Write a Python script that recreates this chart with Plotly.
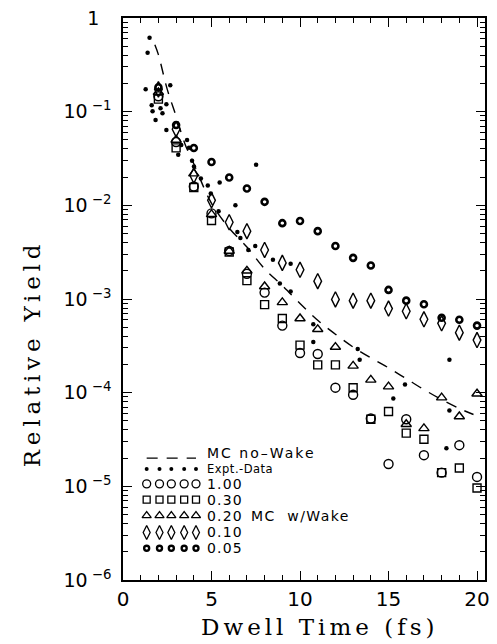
import plotly.graph_objects as go

# ---------------- data ----------------
mc_time = [2, 3, 4, 5, 6, 7, 8, 9, 10, 11, 12, 13, 14, 15, 16, 17, 18, 19, 20]

wake_100 = [0.146, 0.0475, 0.0159, 8.2e-3, 3.26e-3, 1.86e-3, 1.17e-3, 5.2e-4, 2.65e-4, 2.59e-4,
            1.13e-4, 9.5e-5, 5.3e-5, 1.73e-5, 5.2e-5, 2.15e-5, 1.4e-5, 2.75e-5, 1.26e-5]
wake_030 = [0.136, 0.0411, 0.0155, 6.9e-3, 3.18e-3, 1.57e-3, 8.7e-4, 6.2e-4, 3.22e-4, 1.98e-4,
            1.98e-4, 1.13e-4, 5.2e-5, 6.3e-5, 3.7e-5, 3.18e-5, 1.4e-5, 1.57e-5, 9.6e-6]
wake_020 = [0.161, 0.0499, 0.0218, 8.0e-3, 3.26e-3, 2.0e-3, 1.36e-3, 9.2e-4, 6.2e-4, 4.75e-4,
            3.07e-4, 1.93e-4, 1.37e-4, 1.16e-4, 4.6e-5, 4.16e-5, 8.85e-5, 5.57e-5, 9.75e-5]
wake_010 = [0.173, 0.065, 0.0208, 0.0113, 6.6e-3, 5.3e-3, 3.34e-3, 2.43e-3, 2.05e-3, 1.55e-3,
            9.9e-4, 9.6e-4, 9.6e-4, 7.9e-4, 7.4e-4, 6.07e-4, 5.5e-4, 4.37e-4, 3.64e-4]
wake_005 = [0.182, 0.072, 0.041, 0.029, 0.0198, 0.0151, 0.0109, 6.45e-3, 6.8e-3, 5.3e-3,
            3.68e-3, 2.75e-3, 2.28e-3, 1.25e-3, 9.6e-4, 8.8e-4, 6.3e-4, 6.0e-4, 5.2e-4]

expt_time = [1.50, 1.39, 1.28, 2.67, 1.62, 1.67, 2.12, 2.23, 2.45, 1.84,
             2.45, 3.62, 3.29, 3.73, 3.12, 3.90, 4.01, 4.40, 4.79, 5.46,
             4.96, 5.40, 6.35, 7.52, 6.46, 6.63, 7.08, 7.47, 8.47, 9.47,
             8.86, 9.47, 10.75, 10.75, 13.26, 13.37, 18.44, 15.93, 15.27, 18.44,
             18.27]
expt_yield = [0.614, 0.426, 0.173, 0.191, 0.117, 0.101, 0.109, 0.0964, 0.120, 0.0813,
              0.0637, 0.0499, 0.0442, 0.0411, 0.0347, 0.0299, 0.0259, 0.0193, 0.0163, 0.0175,
              0.0134, 8.64e-3, 0.0100, 0.0272, 5.18e-3, 4.48e-3, 3.34e-3, 3.68e-3, 2.62e-3, 2.38e-3,
              1.46e-3, 1.20e-3, 5.37e-4, 3.47e-4, 2.92e-4, 2.24e-4, 2.24e-4, 1.22e-4, 8.65e-5, 6.45e-5,
              2.55e-5]

nowake_time = [1.8, 2.0, 2.5, 3.0, 3.5, 4, 5, 6, 7, 8, 9, 10, 11, 12, 13, 14, 15, 16, 17, 18, 19, 19.8]
nowake_yield = [0.518, 0.406, 0.173, 0.0896, 0.0453, 0.0278, 0.0105, 5.71e-3, 3.59e-3, 2.10e-3,
                1.39e-3, 8.96e-4, 5.92e-4, 4.21e-4, 3.07e-4, 2.35e-4, 1.84e-4, 1.41e-4, 1.08e-4,
                8.43e-5, 6.77e-5, 5.85e-5]

x_tickvals = [0, 5, 10, 15, 20]
x_ticktext = ["0", "5", "10", "15", "20"]
y_tickvals = [1, 1e-1, 1e-2, 1e-3, 1e-4, 1e-5, 1e-6]
y_ticktext = ["1&nbsp;&nbsp;", "10<sup> \u22121</sup>", "10<sup> \u22122</sup>", "10<sup> \u22123</sup>",
              "10<sup> \u22124</sup>", "10<sup> \u22125</sup>", "10<sup> \u22126</sup>"]

legend_labels = ["MC no\u2013Wake", "Expt.-Data", "1.00", "0.30", "0.20", "0.10", "0.05"]
group_label = "MC  w/Wake"
x_title = "Dwell Time (fs)"
y_title = "Relative Yield"

# ---------------- styles ----------------
BLACK = "black"
def mk(symbol, size, width):
    return dict(symbol=symbol, size=size, color=BLACK, line=dict(width=width, color=BLACK))

series = [
    (wake_100, mk("circle-open", 9, 1.4), mk("circle-open", 8, 1.3)),
    (wake_030, mk("square-open", 8, 1.4), mk("square-open", 7, 1.3)),
    (wake_020, mk("triangle-up-open", 9, 1.4), mk("triangle-up-open", 8, 1.3)),
    (wake_010, mk("diamond-tall-open", 11, 1.4), mk("diamond-tall-open", 10, 1.3)),
    (wake_005, mk("circle-open", 6, 2.6), mk("circle-open", 5, 2.4)),
]
dot_style = dict(symbol="circle", size=4.5, color=BLACK)
dot_key = dict(symbol="circle", size=4, color=BLACK)
dash_style = dict(color=BLACK, width=1.4, dash="11px,9px")

fig = go.Figure()

fig.add_trace(go.Scatter(x=nowake_time, y=nowake_yield, mode="lines",
                         line=dict(shape="spline", **dash_style), showlegend=False))
for yv, m, _ in series:
    fig.add_trace(go.Scatter(x=mc_time, y=yv, mode="markers", marker=m, showlegend=False))
fig.add_trace(go.Scatter(x=expt_time, y=expt_yield, mode="markers", marker=dot_style, showlegend=False))

# ---------------- hand-drawn legend (overlay axes 0..1) ----------------
PL, PR, PT, PB = 123, 490, 13, 580
W, H = 497, 644
def px(xp):
    return (xp - PL) / (PR - PL)
def py(yp):
    return (PB - yp) / (PB - PT)

key_x = [px(v) for v in (147, 160, 172, 185, 197)]
row_y = [py(v) for v in (457, 468, 483, 499, 515, 532, 548)]
text_y = [py(v) for v in (452, 468, 483, 499, 515, 532, 548)]

fig.add_trace(go.Scatter(x=[key_x[0], key_x[-1]], y=[row_y[0]] * 2, mode="lines",
                         line=dash_style, xaxis="x2", yaxis="y2", showlegend=False))
fig.add_trace(go.Scatter(x=key_x, y=[row_y[1]] * 5, mode="markers", marker=dot_key,
                         xaxis="x2", yaxis="y2", showlegend=False))
for i, (_, _, mkey) in enumerate(series):
    fig.add_trace(go.Scatter(x=key_x, y=[row_y[i + 2]] * 5, mode="markers", marker=mkey,
                             xaxis="x2", yaxis="y2", showlegend=False))

def spaced(text, sp):
    return "<span style='letter-spacing:%spx'>%s</span>" % (sp, text)

ann = []
label_sizes = [14, 11.5, 14, 14, 14, 14, 14]
label_sp = [2.0, 0.5, 1.2, 1.2, 1.2, 1.2, 1.2]
for i, lab in enumerate(legend_labels):
    ann.append(dict(x=px(207), y=text_y[i], xref="paper", yref="paper", text=spaced(lab, label_sp[i]),
                    showarrow=False, xanchor="left", yanchor="middle", borderpad=0,
                    font=dict(family="DejaVu Sans", size=label_sizes[i], color=BLACK)))
ann.append(dict(x=px(252), y=text_y[4], xref="paper", yref="paper", text=spaced(group_label, 1.4),
                showarrow=False, xanchor="left", yanchor="middle", borderpad=0,
                font=dict(family="DejaVu Sans", size=14, color=BLACK)))
# axis titles
ann.append(dict(x=px(322), y=py(627), xref="paper", yref="paper", text=spaced(x_title, 4),
                showarrow=False, xanchor="center", yanchor="middle",
                font=dict(family="DejaVu Serif", size=23, color=BLACK)))
ann.append(dict(x=px(31), y=py(351), xref="paper", yref="paper", text=spaced(y_title, 4.8),
                showarrow=False, xanchor="center", yanchor="middle", textangle=-90,
                font=dict(family="DejaVu Serif", size=23, color=BLACK)))

axis_common = dict(showline=True, linecolor=BLACK, linewidth=1.6, mirror="allticks",
                   ticks="inside", tickcolor=BLACK, tickwidth=1.3, showgrid=False, zeroline=False)

fig.update_layout(
    width=W, height=H, autosize=False,
    margin=dict(l=PL, r=W - PR, t=PT, b=H - PB),
    paper_bgcolor="white", plot_bgcolor="white",
    showlegend=False,
    xaxis=dict(range=[0, 20.45], tickvals=x_tickvals, ticktext=x_ticktext, ticklen=9,
               minor=dict(ticks="inside", dtick=1, tick0=0, ticklen=5, tickcolor=BLACK, tickwidth=1.2),
               tickfont=dict(family="DejaVu Sans", size=20, color=BLACK), **axis_common),
    yaxis=dict(type="log", range=[-6, 0], tickvals=y_tickvals, ticktext=y_ticktext, ticklen=9,
               ticklabelstandoff=6,
               minor=dict(ticks="inside", dtick="D1", ticklen=5, tickcolor=BLACK, tickwidth=1.2),
               tickfont=dict(family="DejaVu Sans", size=19, color=BLACK), **axis_common),
    xaxis2=dict(overlaying="x", range=[0, 1], visible=False),
    yaxis2=dict(overlaying="y", range=[0, 1], visible=False),
    annotations=ann,
)

fig.write_html("out.html", config={"displayModeBar": False},
               post_script="document.body.style.margin='0px';document.body.style.overflow='hidden';")
